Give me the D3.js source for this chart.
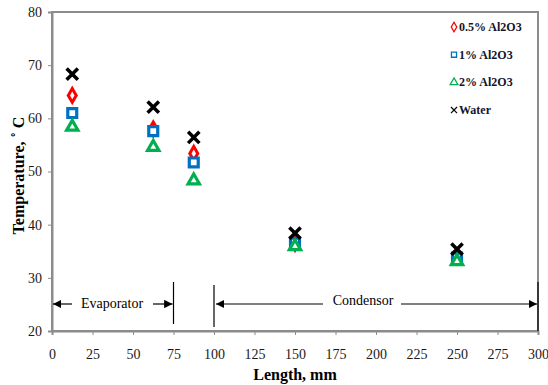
<!DOCTYPE html>
<html>
<head>
<meta charset="utf-8">
<script src="https://cdn.jsdelivr.net/npm/d3@7"></script>
<style>
  body { margin: 0; background: #fff; }
  svg { display: block; }
  svg text { font-family: "Times New Roman", "Liberation Serif", "DejaVu Serif", serif !important; }
</style>
</head>
<body>
<svg id="chart" width="548" height="385"></svg>
<script>
// data
const lengths = [12.5, 62.5, 87.5, 150, 250];
const al05 = [64.3, 58.0, 53.4, 36.5, 34.0];
const al1 = [61.0, 57.6, 51.7, 36.6, 33.8];
const al2 = [58.4, 54.6, 48.3, 35.9, 33.1];
const water = [68.3, 62.1, 56.4, 38.4, 35.4];
const seriesNames = ["0.5% Al2O3", "1% Al2O3", "2% Al2O3", "Water"];
const xTicks = d3.range(0, 301, 25);
const yTicks = [20, 30, 40, 50, 60, 70, 80];

const svg = d3.select("#chart");
const x = d3.scaleLinear().domain([0, 300]).range([52, 538]);
const y = d3.scaleLinear().domain([20, 80]).range([331, 12]);

// frame
svg.append("rect")
  .attr("x", x(0)).attr("y", y(80))
  .attr("width", x(300) - x(0)).attr("height", y(20) - y(80))
  .attr("fill", "none").attr("stroke", "#8c8c8c").attr("stroke-width", 2);

// axes
const yAxis = svg.append("g").attr("transform", `translate(${x(0)},0)`)
  .call(d3.axisLeft(y).tickValues(yTicks).tickSize(4).tickPadding(6));
const xAxis = svg.append("g").attr("transform", `translate(0,${y(20)})`)
  .call(d3.axisBottom(x).tickValues(xTicks).tickSize(4).tickPadding(14));
[xAxis, yAxis].forEach(g => {
  g.attr("font-family", null);
  g.select(".domain").attr("stroke", "#8c8c8c").attr("stroke-width", 2);
  g.selectAll(".tick line").attr("stroke", "#8c8c8c");
  g.selectAll(".tick text").attr("font-size", 14).attr("fill", "#1a1a1a");
});

// axis titles
svg.append("text")
  .attr("x", x(150)).attr("y", 380)
  .attr("text-anchor", "middle").attr("font-weight", "bold").attr("font-size", 16)
  .text("Length, mm");
svg.append("text")
  .attr("transform", `translate(24,${y(50) + 4}) rotate(-90)`)
  .attr("text-anchor", "middle").attr("font-weight", "bold").attr("font-size", 16)
  .text("Temperature, ˚ C");

// section annotations
const ann = svg.append("g").attr("stroke", "#000").attr("stroke-width", 1.2);
svg.append("defs").append("marker")
  .attr("id", "arr").attr("viewBox", "0 0 10 10").attr("refX", 10).attr("refY", 5)
  .attr("markerWidth", 7).attr("markerHeight", 7).attr("orient", "auto-start-reverse")
  .append("path").attr("d", "M0,0 L10,5 L0,10 Z").attr("fill", "#000");
const arrowY = 304;
ann.append("line").attr("x1", x(75)).attr("x2", x(75)).attr("y1", 282).attr("y2", 324);
ann.append("line").attr("x1", x(100)).attr("x2", x(100)).attr("y1", 285).attr("y2", 327);
ann.append("line").attr("x1", x(300)).attr("x2", x(300)).attr("y1", 282).attr("y2", y(20));
ann.append("line").attr("x1", 72).attr("x2", x(0) + 1).attr("y1", arrowY).attr("y2", arrowY).attr("marker-end", "url(#arr)");
ann.append("line").attr("x1", 153).attr("x2", x(75) - 1).attr("y1", arrowY).attr("y2", arrowY).attr("marker-end", "url(#arr)");
ann.append("line").attr("x1", 323).attr("x2", x(100) + 2).attr("y1", arrowY).attr("y2", arrowY).attr("marker-end", "url(#arr)");
ann.append("line").attr("x1", 401).attr("x2", x(300) - 1).attr("y1", arrowY).attr("y2", arrowY).attr("marker-end", "url(#arr)");
svg.append("text").attr("x", 112).attr("y", arrowY + 4).attr("text-anchor", "middle").attr("font-size", 14).text("Evaporator");
svg.append("text").attr("x", 363).attr("y", arrowY + 1).attr("text-anchor", "middle").attr("font-size", 14).text("Condensor");

// markers
const styles = [
  { vals: al05, type: d3.symbolDiamond, color: "#ff0000", size: 55, sw: 3 },
  { vals: al1, type: d3.symbolSquare, color: "#0070c0", size: 80, sw: 3.2 },
  { vals: al2, type: d3.symbolTriangle, color: "#00b050", size: 55, sw: 3.2 },
  { vals: water, type: d3.symbolX, color: "#000000", size: 85, sw: 3.5 }
];
styles.forEach(s => {
  svg.append("g").selectAll("path")
    .data(lengths.map((l, i) => [l, s.vals[i]]))
    .join("path")
    .attr("transform", d => `translate(${x(d[0])},${y(d[1])})`)
    .attr("d", d3.symbol().type(s.type).size(s.size))
    .attr("fill", "#fff")
    .attr("stroke", s.color)
    .attr("stroke-width", s.sw);
});

// legend
const legend = svg.append("g");
seriesNames.forEach((name, i) => {
  const ly = 27 + i * 27.7;
  const s = styles[i];
  legend.append("path")
    .attr("transform", `translate(454,${ly})`)
    .attr("d", d3.symbol().type(s.type).size(26))
    .attr("fill", "#fff").attr("stroke", s.color).attr("stroke-width", i === 3 ? 1.2 : 1.3);
  legend.append("text")
    .attr("x", 459).attr("y", ly + 4)
    .attr("font-size", 12).attr("font-weight", "bold").attr("fill", "#14142b")
    .text(name);
});
</script>
</body>
</html>
